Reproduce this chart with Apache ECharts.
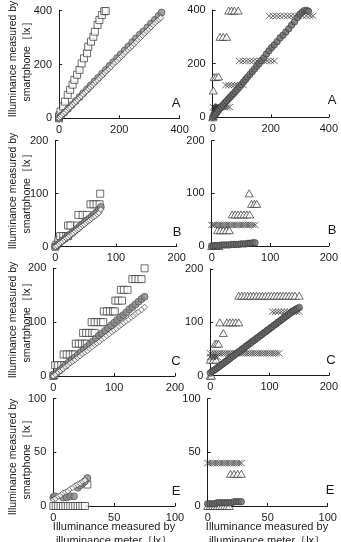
<!DOCTYPE html>
<html><head><meta charset="utf-8">
<script src="https://cdn.jsdelivr.net/npm/echarts@6/dist/echarts.min.js"></script>
<style>html,body{margin:0;padding:0;background:#fff}#c{width:341px;height:542px}</style>
</head><body><div id="c"></div>
<script>
// ---- panel axis settings ----
const panelNames = ['A','A','B','B','C','C','E','E'];
const axisMax = [400,400,200,200,200,200,100,100];
const axisInterval = [200,200,100,100,100,100,50,50];
const yTitle = 'Illuminance measured by\nsmartphone［lx］';
const xTitle = 'Illuminance measured by\nilluminance meter［lx］';

// ---- Panel A, left ----
const sqA = [[0,0],[2,12],[0,6],[5,25],[14,44],[20,62],[29,87],[37,106],[45,125],[51,143],[60,162],[68,180],[75,204],[83,223],[93,242],[97,266],[106,285],[114,303],[119,322],[128,347],[134,365],[142,384],[150,398],[155,399]];
const ciA = [[0,0],[8,10],[18,21],[30,35],[42,49],[55,64],[68,79],[80,93],[93,108],[105,122],[118,137],[130,151],[143,166],[155,180],[168,195],[180,209],[193,224],[205,238],[218,252],[230,267],[243,283],[255,297],[268,311],[280,323],[293,338],[305,352],[318,366],[330,380],[340,393]];
const dmA = [[0,0],[4,5],[9,10],[14,16],[20,22],[26,29],[32,36],[38,42],[44,49],[50,56],[56,62],[62,69],[68,76],[74,82],[80,89],[86,96],[92,102],[98,109],[104,116],[110,122],[116,129],[122,136],[128,142],[134,149],[140,156],[146,162],[152,169],[158,176],[165,183],[172,191],[179,199],[186,207],[193,214],[200,222],[207,230],[214,238],[221,246],[228,254],[235,261],[242,268],[249,276],[256,284],[263,292],[270,300],[277,308],[284,316],[291,324],[298,331],[305,339],[312,347],[319,355],[326,362],[332,368],[338,374]];
// ---- Panel A, right ----
const trRA = [[0,0],[2,5],[2,100],[5,150],[12,150],[20,152],[25,300],[36,300],[48,300],[55,398],[65,398],[75,398],[88,398]];
const crRA = [[2,38],[10,38],[18,38],[26,38],[34,38],[42,38],[50,38],[58,38],[45,120],[55,120],[65,120],[75,120],[85,120],[95,120],[105,120],[92,210],[104,210],[116,210],[128,210],[140,210],[152,210],[164,210],[176,210],[188,210],[200,210],[212,210],[195,378],[208,378],[220,378],[232,378],[245,378],[258,378],[270,378],[283,378],[296,378],[309,378],[322,378],[335,378],[345,378]];
const dkRA = [[1,5],[3,15],[5,25],[7,35],[10,40],[12,30],[15,22],[18,28],[20,35],[25,40],[8,10],[14,12],[4,8],[22,30]];
const ciRA = [[0,0],[5,6],[10,12],[15,19],[20,26],[25,33],[30,39],[36,46],[42,54],[48,61],[54,68],[60,75],[66,82],[72,89],[78,96],[85,104],[92,113],[99,122],[106,132],[113,141],[120,150],[128,160],[136,170],[144,180],[152,190],[160,200],[168,212],[176,222],[185,236],[194,248],[203,260],[212,270],[222,282],[232,296],[242,306],[252,318],[262,330],[272,344],[282,356],[292,372],[300,384],[308,392],[316,398],[324,398],[330,395]];
// ---- Panel B, left ----
const sqB = [[0,0],[2,4],[5,12],[8,20],[13,20],[18,20],[21,20],[21,40],[25,40],[36,40],[38,60],[45,60],[52,60],[58,80],[63,80],[68,80],[73,80],[74,100]];
const ciB = [[0,0],[4,4],[8,8],[12,12],[16,15],[20,19],[24,23],[28,26],[32,30],[36,34],[40,38],[44,42],[48,46],[52,50],[56,53],[60,57],[64,61],[68,65],[72,70],[75,75]];
const dmB = [[0,0],[3,2],[6,5],[9,8],[12,10],[15,13],[18,16],[21,18],[24,21],[27,24],[30,26],[33,29],[36,32],[39,34],[42,37],[45,40],[48,42],[51,45],[54,48],[57,50],[60,53],[63,56],[66,58],[69,61],[72,64],[75,70]];
// ---- Panel B, right ----
const trRB = [[0,0],[4,0],[8,0],[12,0],[10,30],[15,30],[20,30],[25,30],[30,30],[35,60],[40,60],[45,60],[50,60],[55,60],[60,60],[65,60],[64,100],[68,80],[73,80],[77,80]];
const crRB = [[0,40],[3,40],[6,40],[10,40],[14,40],[18,40],[22,40],[26,40],[30,40],[34,40],[38,40],[42,40],[46,40],[50,40],[54,40],[58,40],[62,40],[66,40],[70,40],[74,40]];
const ciRB = [[0,0],[3,0],[6,1],[10,1],[14,1],[18,2],[22,2],[26,2],[30,2],[34,3],[38,3],[42,3],[46,3],[50,4],[54,4],[58,4],[62,5],[66,5],[70,6],[74,6]];
// ---- Panel C, left ----
const sqC = [[0,0],[2,2],[3,20],[8,20],[13,20],[18,20],[17,40],[22,40],[27,40],[32,40],[36,40],[37,60],[42,60],[47,60],[52,60],[55,60],[49,80],[54,80],[59,80],[64,80],[68,80],[63,100],[68,100],[73,100],[78,100],[82,100],[83,120],[88,120],[93,120],[98,120],[101,120],[102,140],[107,140],[113,140],[111,160],[116,160],[122,160],[130,180],[135,180],[140,180],[145,180],[150,200]];
const ciC = [[0,0],[5,5],[10,10],[15,15],[20,20],[25,25],[30,30],[35,34],[40,39],[45,44],[50,49],[55,54],[60,59],[65,64],[70,70],[75,75],[80,79],[85,84],[90,89],[95,94],[100,99],[105,104],[110,109],[115,113],[120,118],[125,124],[130,128],[135,133],[140,138],[145,143],[150,147]];
const dmC = [[0,0],[4,3],[8,7],[12,10],[16,13],[20,17],[24,20],[28,24],[32,27],[36,30],[40,34],[44,37],[48,41],[52,44],[56,47],[60,51],[64,54],[68,58],[72,61],[76,64],[80,68],[84,71],[88,75],[92,78],[96,82],[100,85],[104,88],[108,92],[112,95],[116,99],[120,102],[124,105],[128,109],[132,112],[136,116],[140,119],[145,123],[150,128]];
// ---- Panel C, right ----
const trRC = [[0,0],[2,0],[0,30],[5,30],[10,30],[8,60],[11,60],[14,60],[22,80],[16,100],[28,100],[33,100],[38,100],[43,100],[48,100],[48,150],[53,150],[58,150],[63,150],[68,150],[73,150],[78,150],[83,150],[88,150],[93,150],[98,150],[103,150],[108,150],[113,150],[118,150],[123,150],[128,150],[133,150],[138,150],[143,150],[150,150]];
const crRC = [[0,35],[4,35],[8,35],[12,35],[0,42],[4,42],[8,42],[12,42],[16,42],[20,42],[24,42],[28,42],[32,42],[36,42],[40,42],[44,42],[48,42],[52,42],[56,42],[60,42],[64,42],[68,42],[72,42],[76,42],[80,42],[84,42],[88,42],[92,42],[96,42],[100,42],[104,42],[108,42],[112,42],[116,42],[105,120],[110,120],[115,120],[120,120],[125,120],[130,120],[135,120],[140,120],[145,120],[150,120]];
const ciRC = [[0,5],[3,8],[6,10],[9,12],[12,15],[15,17],[18,20],[21,22],[24,25],[27,27],[30,30],[33,32],[36,35],[39,37],[42,40],[45,42],[48,45],[51,47],[54,50],[57,52],[60,55],[63,57],[66,60],[69,62],[72,65],[75,67],[78,70],[81,72],[84,75],[87,77],[90,80],[93,82],[96,85],[99,87],[102,90],[105,92],[108,95],[111,97],[114,100],[117,102],[120,105],[123,107],[126,110],[129,112],[132,115],[135,117],[138,120],[141,122],[144,124],[147,126],[150,128]];
// ---- Panel E, left ----
const sqE = [[0,0],[2,0],[4,0],[6,0],[8,0],[10,0],[12,0],[14,0],[16,0],[18,0],[20,0],[22,0],[24,0],[26,0],[28,20]];
const ciE = [[0,8],[1,9],[8,8],[11,8],[14,9],[17,9],[20,17],[22,19],[24,21],[26,23],[28,26]];
const dmE = [[0,6],[2,7],[4,9],[6,10],[8,12],[10,13],[12,14],[14,16],[16,17],[18,19],[20,20],[22,21],[24,23],[26,24]];
// ---- Panel E, right ----
const trRE = [[0,0],[2,0],[4,0],[6,0],[8,0],[10,0],[12,0],[14,0],[16,0],[18,0],[19,30],[22,30],[25,30],[28,30]];
const crRE = [[0,40],[2,40],[4,40],[6,40],[8,40],[10,40],[12,40],[14,40],[16,40],[18,40],[20,40],[22,40],[24,40],[26,40],[28,40]];
const ciRE = [[0,2],[2,2],[4,2],[6,2],[8,3],[10,3],[12,3],[14,3],[16,3],[18,3],[20,3],[22,4],[24,4],[26,4],[28,4]];

// ---- layout (pixels) ----
const layout = [
  {l:59, t:10.7, w:120.6, h:107.6},
  {l:212.7, t:10, w:122.3, h:107.3},
  {l:55.3, t:140.7, w:121.4, h:106},
  {l:211.7, t:140.7, w:120.6, h:105.3},
  {l:53.3, t:268.3, w:121.7, h:107.7},
  {l:210.3, t:269, w:121.4, h:106.7},
  {l:53.3, t:398.7, w:121.7, h:107.3},
  {l:207.7, t:398.7, w:120, h:107.3}
];
const letterPos = [[176,103],[332,100],[177,232],[332,230],[176,361],[331,360],[176,491],[330,490]];
const yTitlePos = [[20,59],[20,191],[20,320],[20,457]];
const xTitlePos = [[114,534],[267,534]];

const FONT = '"Liberation Sans", Arial, sans-serif';
const INK = '#1a1a1a';

const styles = {
  square: {symbol:'rect', symbolSize:7, itemStyle:{color:'#fff', borderColor:'#333', borderWidth:0.9}},
  circle: {symbol:'circle', symbolSize:7, itemStyle:{color:'#8a8a8a', borderColor:'#444', borderWidth:0.8}},
  diamond: {symbol:'diamond', symbolSize:6, itemStyle:{color:'#fff', borderColor:'#333', borderWidth:0.8}},
  triangle: {symbol:'triangle', symbolSize:[8,7], itemStyle:{color:'#fff', borderColor:'#333', borderWidth:0.9}},
  cross: {symbol:'path://M0,0L10,8M10,0L0,8', symbolSize:[7,6], itemStyle:{color:'rgba(0,0,0,0)', borderColor:'#333', borderWidth:0.9}},
  dcircle: {symbol:'circle', symbolSize:6.5, itemStyle:{color:'#6e6e6e', borderColor:'#333', borderWidth:0.8}},
  ddiamond: {symbol:'diamond', symbolSize:6, itemStyle:{color:'#444', borderColor:'#222', borderWidth:0.8}}
};

const panelSeries = [
  [['square',sqA],['circle',ciA],['diamond',dmA]],
  [['triangle',trRA],['cross',crRA],['ddiamond',dkRA],['dcircle',ciRA]],
  [['square',sqB],['circle',ciB],['diamond',dmB]],
  [['triangle',trRB],['cross',crRB],['dcircle',ciRB]],
  [['square',sqC],['circle',ciC],['diamond',dmC]],
  [['triangle',trRC],['cross',crRC],['dcircle',ciRC]],
  [['square',sqE],['circle',ciE],['diamond',dmE]],
  [['triangle',trRE],['cross',crRE],['dcircle',ciRE]]
];

const grid = [], xAxis = [], yAxis = [], series = [], graphic = [];
layout.forEach((g, i) => {
  grid.push({left:g.l, top:g.t, width:g.w, height:g.h, containLabel:false});
  const common = {
    gridIndex:i, type:'value', min:0, max:axisMax[i], interval:axisInterval[i],
    axisLine:{show:true, onZero:false, lineStyle:{color:INK, width:1}},
    axisTick:{show:true, inside:true, length:3, lineStyle:{color:INK, width:1}},
    splitLine:{show:false},
    axisLabel:{color:INK, fontSize:11, fontFamily:FONT, margin:7}
  };
  xAxis.push(Object.assign({}, common, {axisLabel:Object.assign({}, common.axisLabel, {margin:6})}));
  yAxis.push(Object.assign({}, common));
  panelSeries[i].forEach(([kind, data]) => {
    const s = styles[kind];
    series.push({type:'scatter', xAxisIndex:i, yAxisIndex:i, data:data,
      symbol:s.symbol, symbolSize:s.symbolSize, itemStyle:s.itemStyle,
      emphasis:{disabled:true}, silent:true});
  });
  graphic.push({type:'text', x:letterPos[i][0], y:letterPos[i][1],
    style:{text:panelNames[i], font:'13px ' + FONT, fill:INK, textAlign:'center', textVerticalAlign:'middle'}});
});
yTitlePos.forEach(p => {
  graphic.push({type:'text', x:p[0], y:p[1], rotation:Math.PI/2,
    style:{text:yTitle, font:'10.5px ' + FONT, fill:INK, textAlign:'center', textVerticalAlign:'middle', lineHeight:14}});
});
xTitlePos.forEach(p => {
  graphic.push({type:'text', x:p[0], y:p[1],
    style:{text:xTitle, font:'11px ' + FONT, fill:INK, textAlign:'center', textVerticalAlign:'middle', lineHeight:14}});
});

const chart = echarts.init(document.getElementById('c'), null, {renderer:'canvas'});
chart.setOption({animation:false, backgroundColor:'#fff', grid, xAxis, yAxis, series, graphic});
</script></body></html>
